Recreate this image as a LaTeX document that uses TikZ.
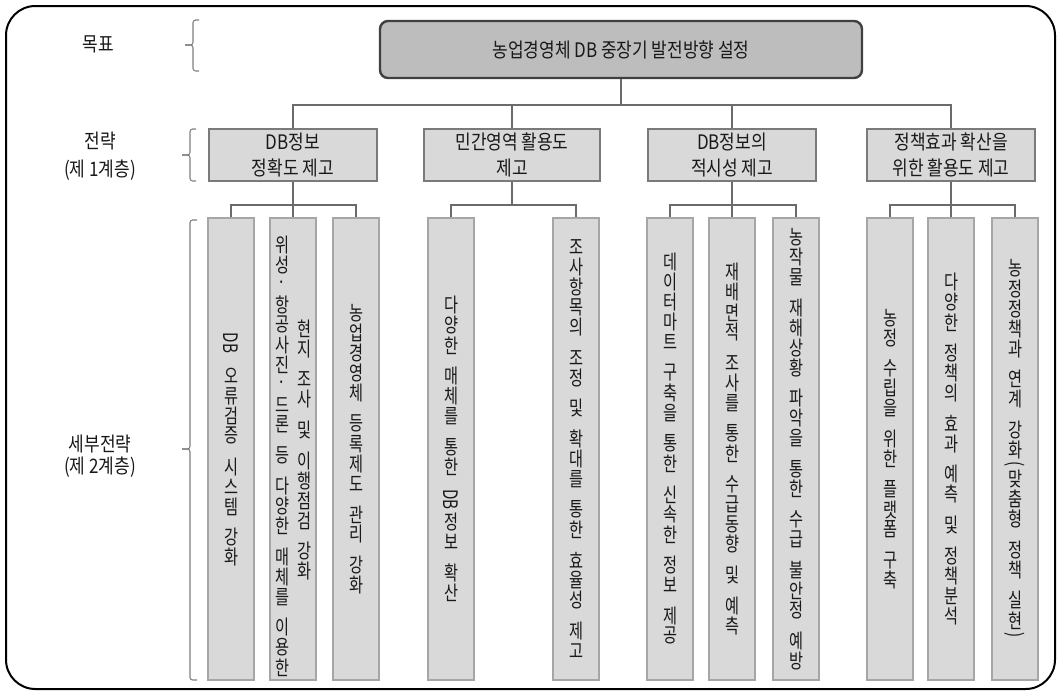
\documentclass[tikz,border=0pt]{standalone}
\usepackage{fontspec}
\usepackage{graphicx}
\setmainfont[FakeStretch=0.85]{Noto Sans CJK KR}
\newfontfamily\vfont[FakeStretch=0.76]{Noto Sans CJK KR}

% vertical (top-to-bottom) text: upright syllables, rotated Latin runs
\newlength\vpitch \setlength\vpitch{15pt}
\newlength\vgapsize \setlength\vgapsize{8pt}
\newlength\vwidth \setlength\vwidth{12pt}
\let\vend\relax
\def\vendmark{\vend}
\def\vloop#1{\def\varg{#1}\ifx\varg\vendmark\else\vchar{#1}\expandafter\vloop\fi}
\newcommand\vchar[1]{\hbox to \vwidth{\hss\vbox to\vpitch{\vss\hbox{#1}\vss}\hss}}
\newcommand\vchars[1]{\vloop#1\vend}
\newcommand\vgap{\vskip\vgapsize}
\newcommand\vrot[1]{\vskip1.5pt\hbox to \vwidth{\hss\rotatebox{-90}{#1}\hss}\vskip1.5pt}
\newcommand\vstack[1]{\vbox{\offinterlineskip#1}}

\tikzset{
  frame/.style={draw=black, line width=1.5pt, rounded corners=22pt},
  goalbox/.style={draw=black!75, fill=black!26, line width=1.8pt, rounded corners=6pt,
    minimum width=361.5pt, minimum height=42.75pt, inner sep=0pt, text=black!90,
    font=\fontsize{15}{18}\selectfont},
  stratbox/.style={draw=black!52, fill=black!15, line width=1.2pt, minimum height=39pt,
    inner sep=0pt, align=center, text=black!90, font=\fontsize{15}{20}\selectfont},
  colbox/.style={draw=black!35, fill=black!15, line width=1.2pt, minimum width=34.5pt,
    minimum height=346.5pt, inner sep=0pt, text=black!90, font=\vfont\fontsize{15}{15}\selectfont},
  vtxt/.style={inner sep=0pt, text=black!90, font=\vfont\fontsize{15}{15}\selectfont},
  conn/.style={draw=black!58, line width=0.9pt},
  brk/.style={draw=black!50, line width=0.8pt, rounded corners=2pt},
  lbl/.style={align=center, inner sep=0pt, text=black!90}
}

\begin{document}
\begin{tikzpicture}[x=0.75pt,y=-0.75pt]
\useasboundingbox (0,0) rectangle (1060,693);
\fill[white] (0,0) rectangle (1060,693);
\draw[frame] (6,6) rectangle (1055,689);

% level labels
\node[lbl, font=\fontsize{15}{18}\selectfont] (lgoal) at (98,44) {목표};
\node[lbl, font=\fontsize{15}{21}\selectfont] (lstrat) at (100,156) {전략\\(제 1계층)};
\node[lbl, font=\fontsize{15}{16.5}\selectfont] (ldet) at (100,456) {세부전략\\(제 2계층)};

% braces
\draw[brk] (199,20) -| (193,45) -- (185,45);
\draw[brk] (185,45) -| (193,71) -- (199,71);
\draw[brk] (196,129) -| (190,155) -- (182,155);
\draw[brk] (182,155) -| (190,181) -- (196,181);
\draw[brk] (197,220) -| (190,449) -- (182,449);
\draw[brk] (182,449) -| (190,680) -- (197,680);

% goal
\node[goalbox] (goal) at (621,49.5) {농업경영체 DB 중장기 발전방향 설정};

% strategies
\node[stratbox, minimum width=126pt] (s1) at (293,155) {DB정보\\정확도 제고};
\node[stratbox, minimum width=132pt] (s2) at (512,155) {민간영역 활용도\\제고};
\node[stratbox, minimum width=126pt] (s3) at (732,155) {DB정보의\\적시성 제고};
\node[stratbox, minimum width=126pt] (s4) at (951,155) {정책효과 확산을\\위한 활용도 제고};

% detailed strategies
\node[colbox] (c1) at (231,449) {\vstack{\vrot{DB}\vgap\vchars{오류검증}\vgap\vchars{시스템}\vgap\vchars{강화}}};
\node[colbox] (c2) at (293,449) {};
\node[vtxt] (c2a) at (282,456) {\vstack{\vchars{위성·항공사진·드론}\vgap\vchars{등}\vgap\vchars{다양한}\vgap\vchars{매체를}\vgap\vchars{이용한}}};
\node[vtxt] (c2b) at (304,450) {\vstack{\vchars{현지}\vgap\vchars{조사}\vgap\vchars{및}\vgap\vchars{이행점검}\vgap\vchars{강화}}};
\node[colbox] (c3) at (356,449) {\vstack{\vchars{농업경영체}\vgap\vchars{등록제도}\vgap\vchars{관리}\vgap\vchars{강화}}};
\node[colbox] (c4) at (451,449) {\vstack{\vchars{다양한}\vgap\vchars{매체를}\vgap\vchars{통한}\vgap\vrot{DB}\vchars{정보}\vgap\vchars{확산}}};
\node[colbox] (c5) at (576,449) {\vstack{\vchars{조사항목의}\vgap\vchars{조정}\vgap\vchars{및}\vgap\vchars{확대를}\vgap\vchars{통한}\vgap\vchars{효율성}\vgap\vchars{제고}}};
\node[colbox] (c6) at (670,449) {\vstack{\vchars{데이터마트}\vgap\vchars{구축을}\vgap\vchars{통한}\vgap\vchars{신속한}\vgap\vchars{정보}\vgap\vchars{제공}}};
\node[colbox] (c7) at (732,449) {\vstack{\vchars{재배면적}\vgap\vchars{조사를}\vgap\vchars{통한}\vgap\vchars{수급동향}\vgap\vchars{및}\vgap\vchars{예측}}};
\node[colbox] (c8) at (796,449) {\vstack{\vchars{농작물}\vgap\vchars{재해상황}\vgap\vchars{파악을}\vgap\vchars{통한}\vgap\vchars{수급}\vgap\vchars{불안정}\vgap\vchars{예방}}};
\node[colbox] (c9) at (890,449) {\vstack{\vchars{농정}\vgap\vchars{수립을}\vgap\vchars{위한}\vgap\vchars{플랫폼}\vgap\vchars{구축}}};
\node[colbox] (c10) at (951,449) {\vstack{\vchars{다양한}\vgap\vchars{정책의}\vgap\vchars{효과}\vgap\vchars{예측}\vgap\vchars{및}\vgap\vchars{정책분석}}};
\node[colbox] (c11) at (1015,449) {\vstack{\vchars{농정정책과}\vgap\vchars{연계}\vgap\vchars{강화}\vrot{(}\vchars{맞춤형}\vgap\vchars{정책}\vgap\vchars{실현}\vrot{)}}};

% connectors: goal to strategies
\coordinate (bus) at (0,105);
\draw[conn] (goal.south) -- (goal.south |- bus);
\draw[conn] (s1.north) |- (s4.north |- bus) -- (s4.north);
\draw[conn] (s2.north) -- (s2.north |- bus);
\draw[conn] (s3.north) -- (s3.north |- bus);

% connectors: strategies to detailed strategies
\coordinate (sbus) at (0,205);
\draw[conn] (s1.south) -- (s1.south |- sbus);
\draw[conn] (c1.north) |- (c3.north |- sbus) -- (c3.north);
\draw[conn] (c2.north) -- (c2.north |- sbus);
\draw[conn] (s2.south) -- (s2.south |- sbus);
\draw[conn] (c4.north) |- (c5.north |- sbus) -- (c5.north);
\draw[conn] (s3.south) -- (s3.south |- sbus);
\draw[conn] (c6.north) |- (c8.north |- sbus) -- (c8.north);
\draw[conn] (c7.north) -- (c7.north |- sbus);
\draw[conn] (s4.south) -- (s4.south |- sbus);
\draw[conn] (c9.north) |- (c11.north |- sbus) -- (c11.north);
\draw[conn] (c10.north) -- (c10.north |- sbus);
\end{tikzpicture}
\end{document}
